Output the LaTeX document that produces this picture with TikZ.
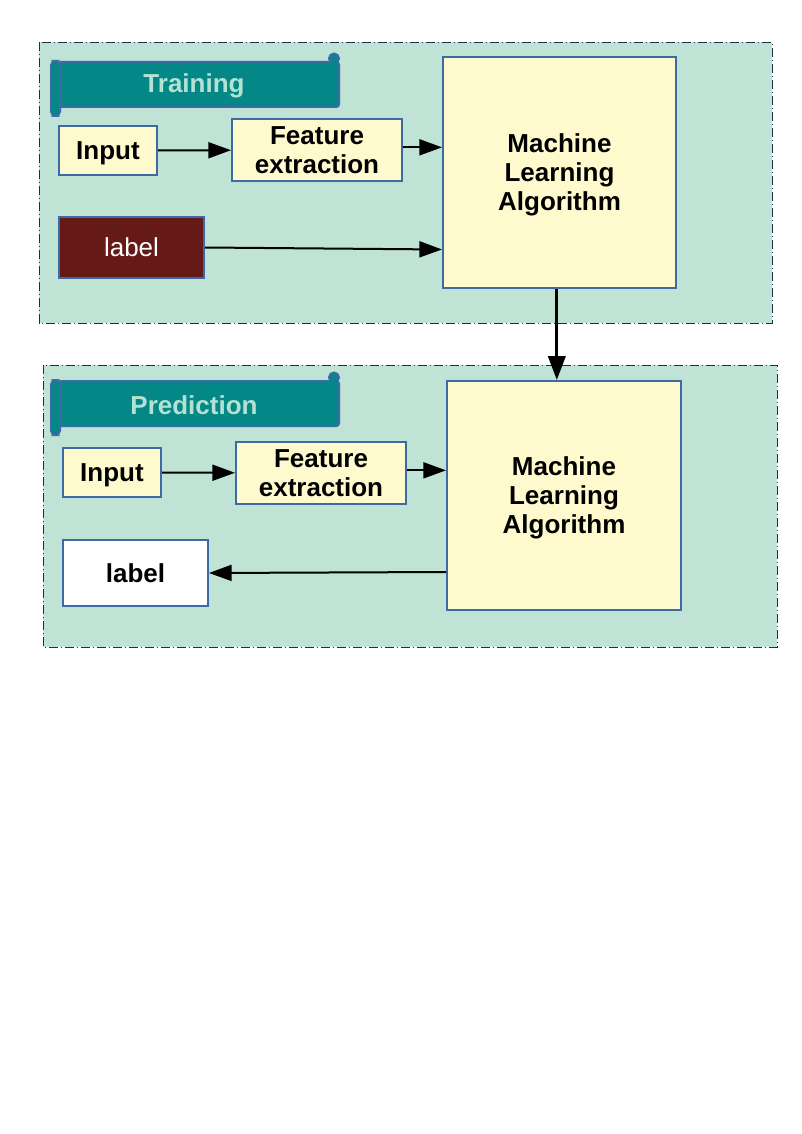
\documentclass[tikz,border=0pt]{standalone}
\usepackage{fontspec}
\setmainfont{Liberation Sans}
\usetikzlibrary{arrows.meta}
\definecolor{panel}{HTML}{BFE3D4}
\definecolor{panelline}{HTML}{1C2E4A}
\definecolor{boxline}{HTML}{3D69A6}
\definecolor{lemon}{HTML}{FFFACD}
\definecolor{banner}{HTML}{038787}
\definecolor{bannertext}{HTML}{B4E2D2}
\definecolor{darklabel}{HTML}{661A17}
\begin{document}
\begin{tikzpicture}[x=0.75pt,y=-0.75pt,
    panelbox/.style={fill=panel,draw=panelline,line width=0.7pt,dash pattern=on 7pt off 2pt on 1pt off 2pt},
    blk/.style={draw=boxline,line width=1.5pt,fill=lemon,inner sep=0pt,align=center,text depth=0pt,
      font=\fontsize{19.5}{21.8}\selectfont\bfseries},
    bannerfill/.style={fill=banner,draw=boxline,line width=1.5pt},
    flow/.style={-{Triangle[length=17pt,width=12pt]},line width=1.5pt}]
  \useasboundingbox (0,0) rectangle (802,1134);
  % the two panels
  \draw[panelbox] (39,42) rectangle (772,323);
  \draw[panelbox] (43,365) rectangle (777,647);
  % scroll banners
  \foreach \dy/\title in {0/Training,319/Prediction} {
    \draw[bannerfill] (334,58.5+\dy) circle (5);
    \draw[bannerfill,rounded corners=2pt] (58,62+\dy) -- (339,62+\dy) -- (339,107+\dy) -- (58,107+\dy) -- cycle;
    \fill[banner] (330,59+\dy) rectangle (337.8,63.5+\dy);
    \draw[boxline,line width=1pt] (331,58+\dy) arc (180:20:3);
    \draw[bannerfill,rounded corners=3.4pt] (51,61+\dy) rectangle (60,116+\dy);
    \node[text=bannertext,font=\fontsize{19.5}{22}\selectfont\bfseries] (ban\title) at (194,86+\dy) {\title};
  }
  % training
  \node[blk,minimum width=73.5pt,minimum height=36.75pt] (tin) at (108,150.5) {Input};
  \node[blk,minimum width=127.5pt,minimum height=46.5pt] (tfe) at (317,150) {Feature\\extraction};
  \node[blk,minimum width=108.75pt,minimum height=45.75pt,fill=darklabel,text=white,
    font=\fontsize{19.5}{22}\selectfont] (tlab) at (131.5,247.5) {label};
  \node[blk,minimum width=174.75pt,minimum height=173.25pt] (tmla) at (559.5,172.5) {Machine\\Learning\\ Algorithm};
  % prediction
  \node[blk,minimum width=73.5pt,minimum height=36.75pt] (pin) at (112,472.5) {Input};
  \node[blk,minimum width=127.5pt,minimum height=46.5pt] (pfe) at (321,473) {Feature\\extraction};
  \node[blk,minimum width=108.75pt,minimum height=49.5pt,fill=white] (plab) at (135.5,573) {label};
  \node[blk,minimum width=175.5pt,minimum height=171.75pt] (pmla) at (564,495.5) {Machine\\Learning\\ Algorithm};
  % arrows
  \draw[flow] (tin) -- (tfe);
  \draw[flow] ([yshift=2pt]tfe.east) -- ([yshift=2pt]tfe.east -| tmla.west);
  \draw[flow] (tlab.east) -- ([yshift=-1.5pt]tlab.east -| tmla.west);
  \draw[-{Triangle[length=18pt,width=13pt]},line width=2.2pt] ([xshift=-2pt]tmla.south) -- ([xshift=-2pt]tmla.south |- pmla.north);
  \draw[flow] (pin) -- (pfe);
  \draw[flow] ([yshift=2pt]pfe.east) -- ([yshift=2pt]pfe.east -| pmla.west);
  \draw[flow] ([yshift=0.75pt]plab.east -| pmla.west) -- (plab.east);
\end{tikzpicture}
\end{document}
